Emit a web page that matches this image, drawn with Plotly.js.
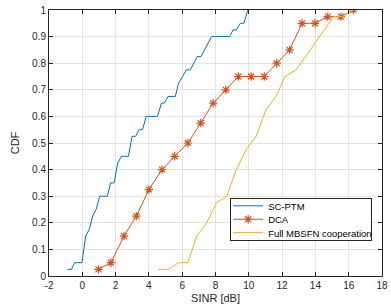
<!DOCTYPE html>
<html>
<head>
<meta charset="utf-8">
<script src="https://cdn.plot.ly/plotly-3.0.1.min.js"></script>
<style>html,body{margin:0;padding:0;background:#fff;}#chart{width:391px;height:308px;}</style>
</head>
<body>
<div id="chart"></div>
<script>
const seriesNames = ["SC-PTM", "DCA", "Full MBSFN cooperation"];

const scptmX = [-0.89, -0.65, -0.46, -0.02, 0.2, 0.42, 0.62, 0.83, 1.05, 1.5, 1.7, 1.91, 2.13, 2.35, 2.77, 2.99, 3.2, 3.41, 3.62, 3.84, 4.52, 4.75, 4.93, 5.15, 5.59, 5.78, 6.02, 6.25, 6.49, 6.9, 7.13, 7.76, 8.86, 9.05, 9.25, 9.49, 9.71, 9.94];
const scptmY = [0.025, 0.025, 0.05, 0.05, 0.15, 0.175, 0.225, 0.25, 0.3, 0.3, 0.35, 0.35, 0.425, 0.45, 0.45, 0.525, 0.525, 0.55, 0.55, 0.6, 0.6, 0.65, 0.65, 0.675, 0.675, 0.725, 0.75, 0.775, 0.775, 0.825, 0.825, 0.9, 0.9, 0.925, 0.925, 0.95, 0.95, 1.0];

const dcaX = [0.97, 1.72, 2.5, 3.25, 4.0, 4.79, 5.55, 6.34, 7.11, 7.86, 8.62, 9.37, 10.14, 10.93, 11.68, 12.45, 13.2, 13.98, 14.74, 15.53, 16.28];
const dcaY = [0.025, 0.05, 0.15, 0.225, 0.325, 0.4, 0.45, 0.5, 0.575, 0.65, 0.7, 0.75, 0.75, 0.75, 0.8, 0.85, 0.95, 0.95, 0.975, 0.975, 1.0];

const mbsfnX = [4.55, 5.19, 5.78, 6.34, 6.87, 7.47, 8.06, 8.68, 9.25, 9.84, 10.44, 11.03, 11.63, 12.18, 12.85, 15.09, 15.63, 16.28];
const mbsfnY = [0.025, 0.025, 0.05, 0.05, 0.15, 0.2, 0.275, 0.3, 0.4, 0.475, 0.525, 0.625, 0.675, 0.75, 0.775, 0.975, 0.975, 1.0];

const xTicks = [-2, 0, 2, 4, 6, 8, 10, 12, 14, 16, 18];
const yTicks = [0, 0.1, 0.2, 0.3, 0.4, 0.5, 0.6, 0.7, 0.8, 0.9, 1];
const yTickText = ["0", "0.1", "0.2", "0.3", "0.4", "0.5", "0.6", "0.7", "0.8", "0.9", "1"];

const FONT = "Liberation Sans, Arial, Helvetica, sans-serif";
const AX = "#262626";

const traces = [
  {x: scptmX, y: scptmY, name: seriesNames[0], mode: "lines", type: "scatter",
   line: {color: "#0072BD", width: 1}},
  {x: dcaX, y: dcaY, name: seriesNames[1], mode: "lines+markers", type: "scatter",
   line: {color: "#D95319", width: 1},
   marker: {symbol: "asterisk-open", size: 7, color: "#D95319", line: {color: "#D95319", width: 1.2}}},
  {x: mbsfnX, y: mbsfnY, name: seriesNames[2], mode: "lines", type: "scatter",
   line: {color: "#EDB120", width: 1}}
];

const axisCommon = {
  showgrid: true, gridcolor: "#e3e3e3", gridwidth: 1,
  zeroline: false, showline: true, linecolor: AX, linewidth: 1, mirror: "ticks",
  ticks: "inside", ticklen: 4, tickcolor: AX, tickwidth: 1,
  tickfont: {family: FONT, size: 10, color: AX}
};

const layout = {
  width: 391, height: 308,
  margin: {l: 49, r: 5, t: 10, b: 32},
  paper_bgcolor: "#ffffff", plot_bgcolor: "#ffffff",
  font: {family: FONT, size: 10, color: AX},
  showlegend: true,
  xaxis: Object.assign({}, axisCommon, {
    range: [-2, 18], tickvals: xTicks, ticktext: xTicks.map(String),
    title: {text: "SINR [dB]", font: {family: FONT, size: 11, color: AX}, standoff: 4}
  }),
  yaxis: Object.assign({}, axisCommon, {
    range: [0, 1], tickvals: yTicks, ticktext: yTickText,
    title: {text: "CDF", font: {family: FONT, size: 11, color: AX}, standoff: 10}
  }),
  legend: {
    x: 0.544, y: 0.292, xanchor: "left", yanchor: "top",
    bgcolor: "#ffffff", bordercolor: AX, borderwidth: 1,
    font: {family: FONT, size: 10, color: "#000000"},
    itemwidth: 30, tracegroupgap: 0
  }
};

Plotly.newPlot("chart", traces, layout, {displayModeBar: false, staticPlot: true}).then(function (gd) {
  // Compact the legend to MATLAB-like spacing
  try {
    const leg = gd.querySelector("g.legend");
    if (!leg) return;
    const items = leg.querySelectorAll("g.traces");
    const spacing = 13.4, first = 7.5;
    items.forEach(function (it, i) {
      it.setAttribute("transform", "translate(-2," + (first + i * spacing) + ")");
    });
    leg.querySelectorAll("text.legendtext").forEach(function (t) {
      t.style.fontSize = "9.5px";
    });
    const bg = leg.querySelector("rect.bg");
    if (bg) {
      bg.setAttribute("height", (first * 2 + spacing * (items.length - 1)).toFixed(1));
      bg.setAttribute("width", "141");
    }
  } catch (e) {}
});
</script>
</body>
</html>
